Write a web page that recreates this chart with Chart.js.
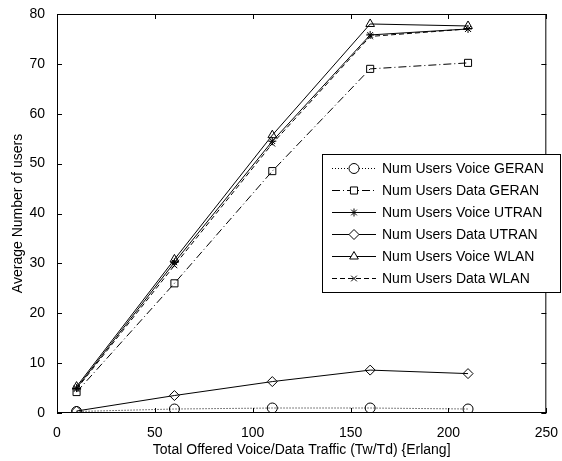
<!DOCTYPE html>
<html>
<head>
<meta charset="utf-8">
<script src="https://cdn.jsdelivr.net/npm/chart.js@4/dist/chart.umd.min.js"></script>
<style>
  html, body { margin: 0; padding: 0; background: #fff; }
  #wrap { width: 562px; height: 461px; }
</style>
</head>
<body>
<div id="wrap"><canvas id="chart" width="562" height="461"></canvas></div>
<script>
// Offered traffic (Erlang)
const traffic = [10, 60, 110, 160, 210];

// Average number of users per series
const voiceGeran = [0.3, 0.8, 1.0, 1.0, 0.8];
const dataGeran  = [4.2, 26.0, 48.5, 69.0, 70.2];
const voiceUtran = [5.0, 30.2, 54.5, 75.8, 77.0];
const dataUtran  = [0.4, 3.5, 6.3, 8.6, 7.9];
const voiceWlan  = [5.3, 30.8, 55.7, 78.0, 77.6];
const dataWlan   = [4.8, 29.6, 54.0, 75.5, 77.0];

const xTicks = [0, 50, 100, 150, 200, 250];
const yTicks = [0, 10, 20, 30, 40, 50, 60, 70, 80];

const FONT = "'Liberation Sans', Arial, sans-serif";

function series(label, ys, style, dash, radius) {
  return {
    label: label,
    data: traffic.map((x, i) => ({ x: x, y: ys[i] })),
    borderColor: '#000',
    backgroundColor: 'rgba(0,0,0,0)',
    borderWidth: 1,
    borderDash: dash,
    pointStyle: style,
    pointRadius: radius,
    pointBorderColor: '#000',
    pointBackgroundColor: 'rgba(0,0,0,0)',
    pointBorderWidth: 1,
    tension: 0
  };
}

// box around the axes with inward ticks on all sides (matlab look)
const framePlugin = {
  id: 'frame',
  afterDraw(chart) {
    const { ctx, chartArea: a, scales } = chart;
    ctx.save();
    ctx.strokeStyle = '#000';
    ctx.lineWidth = 1;
    ctx.strokeRect(a.left + 0.5, a.top + 0.5, a.right - a.left - 1, a.bottom - a.top - 1);
    ctx.beginPath();
    xTicks.forEach(v => {
      const px = Math.round(scales.x.getPixelForValue(v)) + 0.5;
      ctx.moveTo(px, a.bottom); ctx.lineTo(px, a.bottom - 5);
      ctx.moveTo(px, a.top); ctx.lineTo(px, a.top + 5);
    });
    yTicks.forEach(v => {
      const py = Math.round(scales.y.getPixelForValue(v)) + 0.5;
      ctx.moveTo(a.left, py); ctx.lineTo(a.left + 5, py);
      ctx.moveTo(a.right, py); ctx.lineTo(a.right - 5, py);
    });
    ctx.stroke();
    ctx.restore();
  }
};

// legend box sitting inside / over the right edge of the plot
const legendBox = {
  id: 'legendBox',
  afterDraw(chart) {
    const ctx = chart.ctx;
    const left = 322, top = 154, w = 238, rowH = 22;
    const n = chart.data.datasets.length;
    const h = rowH * n + 6;
    ctx.save();
    ctx.fillStyle = '#fff';
    ctx.fillRect(left, top, w, h);
    ctx.strokeStyle = '#000';
    ctx.lineWidth = 1;
    ctx.strokeRect(left + 0.5, top + 0.5, w, h);
    ctx.font = '14px ' + FONT;
    ctx.textBaseline = 'middle';
    chart.data.datasets.forEach((ds, i) => {
      const y = top + 14 + i * rowH;
      ctx.strokeStyle = '#000';
      ctx.setLineDash(ds.borderDash || []);
      ctx.beginPath();
      ctx.moveTo(332, y + 0.5);
      ctx.lineTo(376, y + 0.5);
      ctx.stroke();
      ctx.setLineDash([]);
      ctx.fillStyle = '#fff';
      Chart.helpers.drawPoint(ctx, {
        pointStyle: ds.pointStyle, radius: ds.pointRadius, rotation: 0, borderWidth: 1
      }, 354, y + 0.5);
      ctx.fillStyle = '#000';
      ctx.fillText(ds.label, 382, y + 1);
    });
    ctx.restore();
  }
};

new Chart(document.getElementById('chart').getContext('2d'), {
  type: 'line',
  data: {
    datasets: [
      series('Num Users Voice GERAN', voiceGeran, 'circle', [1, 2], 5),
      series('Num Users Data GERAN', dataGeran, 'rect', [8, 3, 1, 3], 5),
      series('Num Users Voice UTRAN', voiceUtran, 'star', [], 4),
      series('Num Users Data UTRAN', dataUtran, 'rectRot', [], 5),
      series('Num Users Voice WLAN', voiceWlan, 'triangle', [], 5),
      series('Num Users Data WLAN', dataWlan, 'crossRot', [5, 3], 4)
    ]
  },
  options: {
    responsive: false,
    animation: false,
    layout: { padding: { top: 14, right: 10, left: 0, bottom: 0 } },
    plugins: { legend: { display: false }, tooltip: { enabled: false } },
    scales: {
      x: {
        type: 'linear', min: 0, max: 250,
        afterBuildTicks: s => { s.ticks = xTicks.map(v => ({ value: v })); },
        afterFit: s => { s.height = 48; },
        grid: { display: false },
        border: { display: false },
        ticks: { color: '#000', font: { family: FONT, size: 14 }, padding: 4, maxRotation: 0 },
        title: { display: true, text: 'Total Offered Voice/Data Traffic (Tw/Td) {Erlang]', color: '#000',
                 font: { family: FONT, size: 14 }, padding: { top: 0, bottom: 2 } }
      },
      y: {
        type: 'linear', min: 0, max: 80,
        afterBuildTicks: s => { s.ticks = yTicks.map(v => ({ value: v })); },
        afterFit: s => { s.width = 57; },
        grid: { display: false },
        border: { display: false },
        ticks: { color: '#000', font: { family: FONT, size: 14 }, padding: 4 },
        title: { display: true, text: 'Average Number of users', color: '#000',
                 font: { family: FONT, size: 14 }, padding: { top: 10, bottom: 2 } }
      }
    }
  },
  plugins: [framePlugin, legendBox]
});
</script>
</body>
</html>
